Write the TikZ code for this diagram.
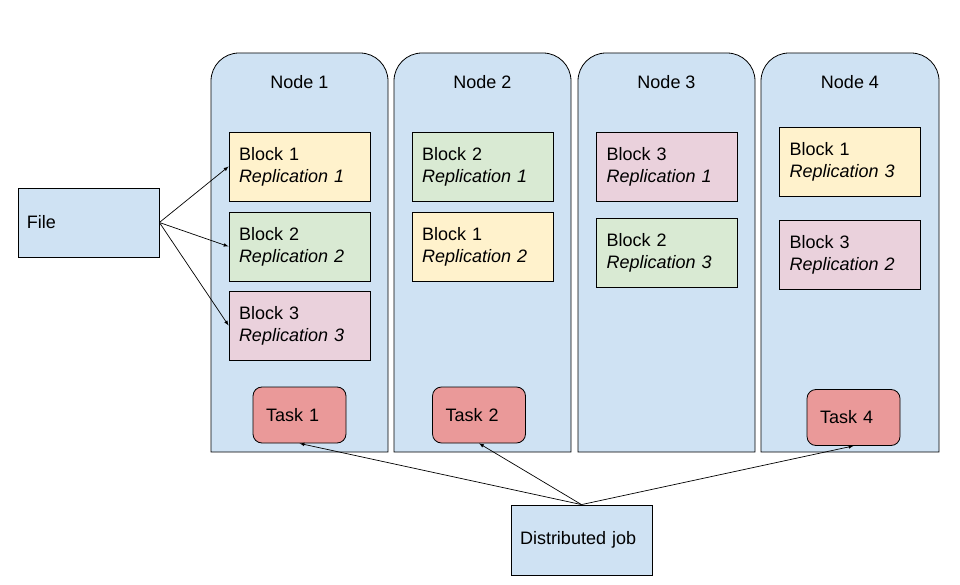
\documentclass[tikz,border=0pt]{standalone}
\usepackage{fontspec}
\setmainfont{Liberation Sans}
\definecolor{nodeblue}{HTML}{CFE2F3}
\definecolor{blockyellow}{HTML}{FFF2CC}
\definecolor{blockgreen}{HTML}{D9EAD3}
\definecolor{blockpink}{HTML}{EAD1DC}
\definecolor{taskred}{HTML}{EA9999}
\tikzset{
	container/.style={draw=black, fill=nodeblue, line width=0.8pt},
	block/.style={draw=black, line width=0.8pt, minimum width=141pt, minimum height=69pt,
		text width=121pt, inner xsep=10pt, align=left},
	task/.style={draw=black, fill=taskred, line width=0.8pt, rounded corners=9pt,
		minimum width=93pt, minimum height=56pt, text width=67pt, inner xsep=13pt, align=left},
	plainbox/.style={draw=black, fill=nodeblue, line width=0.8pt, minimum width=141pt,
		minimum height=69pt, text width=123pt, inner xsep=9pt, align=left}
}
\newcommand{\rep}[1]{\textit{Replication #1}}

\begin{document}
\begin{tikzpicture}[x=1pt, y=1pt, >={latex}, every node/.style={font=\fontsize{18}{22}\selectfont}]
			\useasboundingbox (0,0) rectangle (960,584);

			% Cluster nodes
			\draw[container] (211,132) -- (211,503) arc[start angle=180, end angle=90, radius=28] -- (360,531) arc[start angle=90, end angle=0, radius=28] -- (388,132) -- cycle;
			\draw[container] (394,132) -- (394,503) arc[start angle=180, end angle=90, radius=28] -- (543,531) arc[start angle=90, end angle=0, radius=28] -- (571,132) -- cycle;
			\draw[container] (578,132) -- (578,503) arc[start angle=180, end angle=90, radius=28] -- (727,531) arc[start angle=90, end angle=0, radius=28] -- (755,132) -- cycle;
			\draw[container] (761,132) -- (761,503) arc[start angle=180, end angle=90, radius=28] -- (911,531) arc[start angle=90, end angle=0, radius=28] -- (939,132) -- cycle;
			\node (n1) at (299.5,502) {Node 1};
			\node (n2) at (482.5,502) {Node 2};
			\node (n3) at (666.5,502) {Node 3};
			\node (n4) at (850,502) {Node 4};

			% Blocks
			\node[block, fill=blockyellow] (b11) at (299.5,417.5) {Block 1\\\rep{1}};
			\node[block, fill=blockgreen] (b21) at (299.5,337.5) {Block 2\\\rep{2}};
			\node[block, fill=blockpink] (b31) at (299.5,258.5) {Block 3\\\rep{3}};
			\node[block, fill=blockgreen] (b22) at (482.5,417.5) {Block 2\\\rep{1}};
			\node[block, fill=blockyellow] (b12) at (482.5,337.5) {Block 1\\\rep{2}};
			\node[block, fill=blockpink] (b33) at (667,417.5) {Block 3\\\rep{1}};
			\node[block, fill=blockgreen] (b23) at (667,331) {Block 2\\\rep{3}};
			\node[block, fill=blockyellow] (b14) at (850,422.5) {Block 1\\\rep{3}};
			\node[block, fill=blockpink] (b34) at (850,329) {Block 3\\\rep{2}};

			% Tasks
			\node[task] (t1) at (299.5,169) {Task 1};
			\node[task] (t2) at (479,169) {Task 2};
			\node[task] (t4) at (853.5,166.5) {Task 4};

			% File and job
			\node[plainbox] (file) at (88.5,361.5) {File};
			\node[plainbox, minimum height=70pt] (job) at (581.5,44) {Distributed job};

			% Arrows
			\draw[->, line width=0.7pt] (file.east) -- (b11.west);
			\draw[->, line width=0.7pt] (file.east) -- (b21.west);
			\draw[->, line width=0.7pt] (file.east) -- (b31.west);
			\draw[->, line width=0.7pt] (job.north) -- (t1.south);
			\draw[->, line width=0.7pt] (job.north) -- (t2.south);
			\draw[->, line width=0.7pt] (job.north) -- (t4.south);
		\end{tikzpicture}
\end{document}
